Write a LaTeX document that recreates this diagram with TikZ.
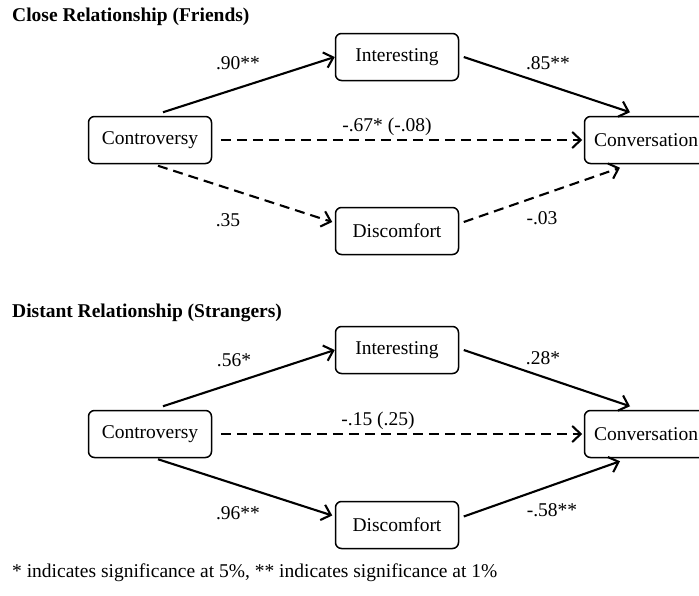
\documentclass[tikz,border=0pt]{standalone}
\usepackage{fontspec}
\setmainfont{Liberation Serif}
\usetikzlibrary{arrows.meta,calc}
\begin{document}
\begin{tikzpicture}[x=1pt,y=-1pt,
  every node/.style={font=\fontsize{19.5}{23}\selectfont, inner sep=0pt},
  var/.style={draw, line width=1.5pt, rounded corners=6pt, minimum width=123pt, minimum height=47pt},
  path/.style={line width=2.1pt, -{Straight Barb[length=8.5pt,width=16pt,line width=2.1pt]}},
  dsh/.style={path, dash pattern=on 10pt off 6pt},
  ttl/.style={font=\bfseries\fontsize{19.5}{23}\selectfont, anchor=west},
  lbl/.style={}
]
\useasboundingbox (0,0) rectangle (699,595);
% top panel
\node[ttl] (t1) at (12,17) {Close Relationship (Friends)};
\node[var] (i1) at (397,57) {Interesting};
\node[var] (c1) at (150,140) {Controversy};
\node[var] (d1) at (397,231) {Discomfort};
\node[var] (v1) at (646,140) {Conversation};
\draw[path] ($(c1.north)+(13,-3.5)$) -- (i1.west);
\draw[path] ($(i1.east)+(4.5,0)$) -- ($(v1.north)+(-16,-3.5)$);
\draw[dsh] ($(c1.east)+(8.5,0)$) -- ($(v1.west)+(-1.5,0)$);
\draw[dsh] ($(c1.south)+(8,1.5)$) -- ($(d1.west)+(-2.5,-9)$);
\draw[dsh] ($(d1.east)+(4.5,-9)$) -- ($(v1.south)+(-26,3.5)$);
\node[lbl] (l1) at (238,63) {.90**};
\node[lbl] (l2) at (548,63) {.85**};
\node[lbl] (l3) at (387,127) {-.67* (-.08)};
\node[lbl] (l4) at (228,220) {.35};
\node[lbl] (l5) at (542,218) {-.03};
% bottom panel
\node[ttl] (t2) at (12,313) {Distant Relationship (Strangers)};
\node[var] (i2) at (397,350) {Interesting};
\node[var] (c2) at (150,434) {Controversy};
\node[var] (d2) at (397,525) {Discomfort};
\node[var] (v2) at (646,434) {Conversation};
\draw[path] ($(c2.north)+(13,-3.5)$) -- (i2.west);
\draw[path] ($(i2.east)+(4.5,0)$) -- ($(v2.north)+(-16,-3.5)$);
\draw[dsh] ($(c2.east)+(8.5,0)$) -- ($(v2.west)+(-1.5,0)$);
\draw[path] ($(c2.south)+(8,1)$) -- ($(d2.west)+(-2.5,-9.5)$);
\draw[path] ($(d2.east)+(4.5,-8.5)$) -- ($(v2.south)+(-26,3)$);
\node[lbl] (m1) at (234,360) {.56*};
\node[lbl] (m2) at (543,358) {.28*};
\node[lbl] (m3) at (378,421) {-.15 (.25)};
\node[lbl] (m4) at (238,513) {.96**};
\node[lbl] (m5) at (552,510) {-.58**};
\node[anchor=west] (fn) at (12,573) {* indicates significance at 5\%, ** indicates significance at 1\%};
\end{tikzpicture}
\end{document}
